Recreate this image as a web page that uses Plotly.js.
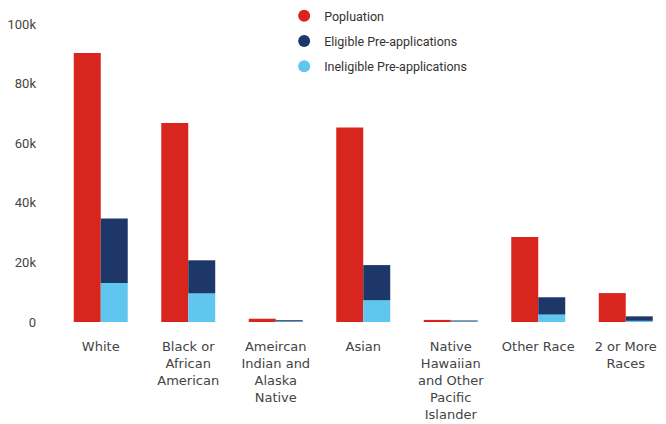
<!DOCTYPE html>
<html>
<head>
<meta charset="utf-8">
<script src="https://cdn.plot.ly/plotly-3.0.1.min.js"></script>
<style>html,body{margin:0;padding:0;background:#fff;}#chart{width:666px;height:424px;}</style>
</head>
<body>
<div id="chart"></div>
<script>
const categories = ["White", "Black or<br>African<br>American", "Ameircan<br>Indian and<br>Alaska<br>Native", "Asian", "Native<br>Hawaiian<br>and Other<br>Pacific<br>Islander", "Other Race", "2 or More<br>Races"];
const population = [90300, 66800, 1100, 65300, 700, 28500, 9700];
const eligible = [21600, 11100, 400, 11800, 300, 5800, 1500];
const ineligible = [13100, 9600, 200, 7300, 200, 2500, 400];
const seriesNames = ["Popluation", "Eligible Pre-applications", "Ineligible Pre-applications"];
const colors = ["#d8261f", "#1d3768", "#5ec6ef"];

const idx = categories.map((_, i) => i);

const traces = [
  {type: "bar", x: idx, y: population, name: seriesNames[0], offsetgroup: "a", marker: {color: colors[0]}, showlegend: false, hoverinfo: "y"},
  {type: "bar", x: idx, y: ineligible, name: seriesNames[2], offsetgroup: "b", marker: {color: colors[2]}, showlegend: false, hoverinfo: "y"},
  {type: "bar", x: idx, y: eligible, base: ineligible, name: seriesNames[1], offsetgroup: "b", marker: {color: colors[1]}, showlegend: false, hoverinfo: "y"}
];
// legend-only entries with circle markers
seriesNames.forEach((n, i) => {
  traces.push({type: "scatter", mode: "markers", x: [null], y: [null], name: n, legendgroup: "g" + i,
    marker: {color: colors[i], size: 12, symbol: "circle"}, showlegend: true});
});

const layout = {
  width: 666, height: 424,
  margin: {l: 57, r: 0, t: 24, b: 102},
  paper_bgcolor: "#fff", plot_bgcolor: "#fff",
  barmode: "group", bargap: 0.383, bargroupgap: 0,
  font: {family: "Roboto, 'Open Sans', sans-serif", color: "#333"},
  xaxis: {
    tickmode: "array", tickvals: idx, ticktext: categories,
    range: [-0.5, 6.46], showgrid: false, zeroline: false, showline: false, ticks: "",
    tickfont: {family: "'DejaVu Sans', sans-serif", size: 13, color: "#444"},
    ticklabelstandoff: 15
  },
  yaxis: {
    range: [0, 100000], dtick: 20000, tickformat: "~s",
    showgrid: false, zeroline: false, showline: false, ticks: "",
    tickfont: {family: "Roboto, sans-serif", size: 13, color: "#444"},
    ticklabelstandoff: 20
  },
  legend: {
    x: 0.373, xanchor: "left", y: 1.077, yanchor: "top",
    font: {family: "Roboto, sans-serif", size: 12.5, color: "#333"},
    tracegroupgap: 6, bgcolor: "rgba(0,0,0,0)"
  },
  showlegend: true
};

Plotly.newPlot("chart", traces, layout, {displayModeBar: false, staticPlot: true});
</script>
</body>
</html>
